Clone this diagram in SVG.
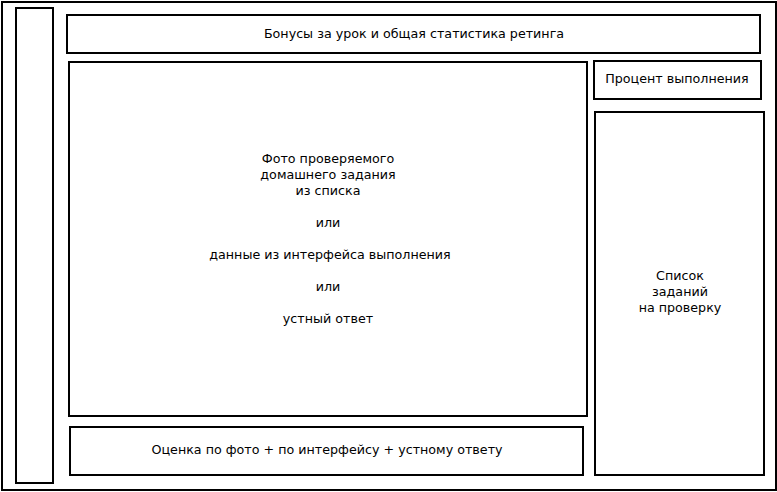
<svg xmlns="http://www.w3.org/2000/svg" width="777" height="492" viewBox="0 0 777 492">
<style>
rect{fill:#fff;stroke:#000;stroke-width:2}
text{font-family:"DejaVu Sans",sans-serif;font-size:12.7px;fill:#000;text-anchor:middle}
</style>
<rect x="0" y="0" width="777" height="492" style="stroke:none"/>
<g id="outer"><rect x="2" y="2" width="774" height="488"/></g>
<g id="sidebar"><rect x="16" y="8" width="37" height="475"/></g>
<g id="bonus"><rect x="67" y="15" width="693" height="38"/><text x="414" y="37.5">Бонусы за урок и общая статистика ретинга</text></g>
<g id="main"><rect x="69" y="62" width="518" height="354"/>
<text x="328" y="162.5">Фото проверяемого</text>
<text x="328" y="178.5">домашнего задания</text>
<text x="328" y="194.5">из списка</text>
<text x="328" y="226.5">или</text>
<text x="330" y="258.5">данные из интерфейса выполнения</text>
<text x="328" y="290.5">или</text>
<text x="328" y="322.5">устный ответ</text>
</g>
<g id="percent"><rect x="594" y="61" width="167" height="38"/><text x="677" y="83">Процент выполнения</text></g>
<g id="list"><rect x="595" y="112" width="169" height="363"/>
<text x="680" y="279.5">Список</text>
<text x="680" y="295.5">заданий</text>
<text x="680" y="311.5">на проверку</text>
</g>
<g id="grade"><rect x="70" y="427" width="513" height="48"/><text x="327" y="454">Оценка по фото + по интерфейсу + устному ответу</text></g>
<g id="connectors"></g>
</svg>
